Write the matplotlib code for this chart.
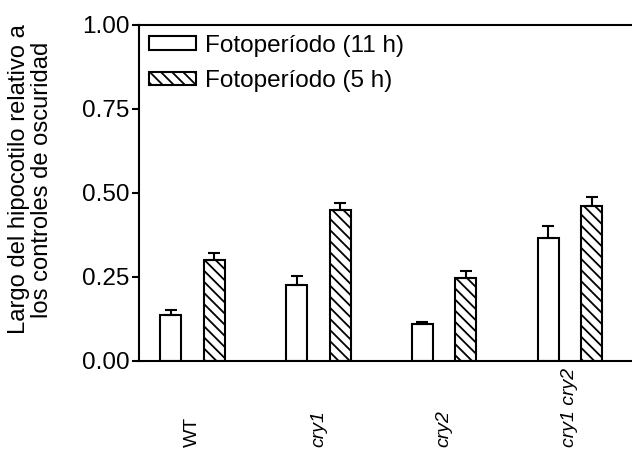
import numpy as np
import matplotlib
matplotlib.use("Agg")
import matplotlib.pyplot as plt

plt.rcParams["font.family"] = ["Liberation Sans", "DejaVu Sans"]
plt.rcParams["hatch.linewidth"] = 1.3

# Hypocotyl length relative to dark controls
genotypes = ["WT", "cry1", "cry2", "cry1 cry2"]
long_day = [0.137, 0.226, 0.111, 0.366]      # Fotoperíodo (11 h)
long_day_err = [0.015, 0.027, 0.005, 0.035]
short_day = [0.300, 0.449, 0.247, 0.461]     # Fotoperíodo (5 h)
short_day_err = [0.020, 0.022, 0.022, 0.026]

x = np.arange(len(genotypes))
width = 0.167
offset = 0.173

fig = plt.figure(figsize=(6.32, 4.51), dpi=100)
ax = fig.add_axes([0.22, 0.1996, 0.78, 0.745])

err_style = dict(ecolor="black", elinewidth=1.5, capsize=4, capthick=1.5)
ax.bar(x - offset, long_day, width, color="white", edgecolor="black",
       linewidth=1.5, yerr=[np.zeros(4), long_day_err], error_kw=err_style,
       label="Fotoperíodo (11 h)", zorder=2)
ax.bar(x + offset, short_day, width, color="white", edgecolor="black",
       linewidth=1.5, hatch="\\\\\\", yerr=[np.zeros(4), short_day_err],
       error_kw=err_style, label="Fotoperíodo (5 h)", zorder=2)

ax.set_xlim(-0.427, 3.495)
ax.set_ylim(0, 1.0)
ax.set_yticks([0, 0.25, 0.5, 0.75, 1.0])
ax.set_yticklabels(["0.00", "0.25", "0.50", "0.75", "1.00"])
ax.tick_params(axis="y", direction="out", length=5, width=1.5, labelsize=17.5, pad=2)

ax.set_xticks(x)
ax.set_xticklabels(genotypes, rotation=90, va="bottom", ha="center", fontsize=14)
ax.tick_params(axis="x", length=0, pad=62)
for lbl in ax.get_xticklabels()[1:]:
    lbl.set_fontstyle("italic")

ax.spines["right"].set_visible(False)
for side in ["left", "top", "bottom"]:
    ax.spines[side].set_linewidth(1.5)

ax.set_ylabel("Largo del hipocotilo relativo a\nlos controles de oscuridad",
              fontsize=17.1, linespacing=1.05)
ax.yaxis.set_label_coords(-0.175, 0.54)

ax.legend(loc="upper left", frameon=False, fontsize=17.5, handlelength=1.95,
          handleheight=0.5, handletextpad=0.35, borderaxespad=0.2,
          labelspacing=0.55, borderpad=0.2)

fig.savefig("out.png", dpi=100)
